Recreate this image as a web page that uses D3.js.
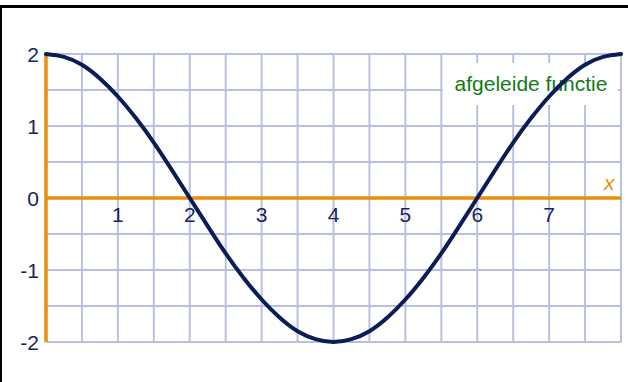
<!DOCTYPE html>
<html>
<head>
<meta charset="utf-8">
<script src="https://cdn.jsdelivr.net/npm/d3@7"></script>
<style>
  body { margin: 0; background: #fff; }
  svg { display: block; font-family: Arial, "Liberation Sans", sans-serif; }
</style>
</head>
<body>
<script>
// curve, x in steps of 0.25
var curveX = [0, 0.25, 0.5, 0.75, 1, 1.25, 1.5, 1.75, 2, 2.25, 2.5, 2.75, 3, 3.25, 3.5, 3.75, 4,
              4.25, 4.5, 4.75, 5, 5.25, 5.5, 5.75, 6, 6.25, 6.5, 6.75, 7, 7.25, 7.5, 7.75, 8];
var curveY = [2, 1.96, 1.85, 1.66, 1.41, 1.11, 0.77, 0.39, 0, -0.39, -0.77, -1.11, -1.41, -1.66, -1.85, -1.96, -2,
              -1.96, -1.85, -1.66, -1.41, -1.11, -0.77, -0.39, 0, 0.39, 0.77, 1.11, 1.41, 1.66, 1.85, 1.96, 2];
var xTicks = [1, 2, 3, 4, 5, 6, 7];
var yTicks = [2, 1, 0, -1, -2];
var curveLabel = "afgeleide functie";
var axisName = "x";

var width = 628, height = 382;

var svg = d3.select("body").append("svg")
  .attr("width", width)
  .attr("height", height);

// x: 0..8, y: -2..2
var xScale = d3.scaleLinear().domain([0, 8]).range([46, 621]);
var yScale = d3.scaleLinear().domain([-2, 2]).range([342, 54]);

// frame lines top and left
svg.append("line")
  .attr("x1", 0).attr("x2", width)
  .attr("y1", 6.5).attr("y2", 6.5)
  .attr("stroke", "#000").attr("stroke-width", 3);
svg.append("line")
  .attr("x1", 1).attr("x2", 1)
  .attr("y1", 5).attr("y2", height)
  .attr("stroke", "#000").attr("stroke-width", 2);

// grid every half unit
var gridX = d3.range(0, 8.01, 0.5);
var gridY = d3.range(-2, 2.01, 0.5);
var grid = svg.append("g").attr("stroke", "#b9bfe0").attr("stroke-width", 2);
grid.selectAll(".gx").data(gridX).enter().append("line")
  .attr("x1", d => xScale(d)).attr("x2", d => xScale(d))
  .attr("y1", yScale(2)).attr("y2", yScale(-2));
grid.selectAll(".gy").data(gridY).enter().append("line")
  .attr("x1", xScale(0)).attr("x2", xScale(8))
  .attr("y1", d => yScale(d)).attr("y2", d => yScale(d));

// white box behind the label
svg.append("rect")
  .attr("x", 443).attr("y", 63)
  .attr("width", 175).attr("height", 42)
  .attr("fill", "#fff");
svg.append("text")
  .attr("x", 531).attr("y", 91)
  .attr("text-anchor", "middle")
  .attr("font-size", 21)
  .attr("fill", "#137a17")
  .text(curveLabel);

// orange axes
svg.append("line")
  .attr("x1", xScale(0)).attr("x2", xScale(8))
  .attr("y1", yScale(0)).attr("y2", yScale(0))
  .attr("stroke", "#e8900c").attr("stroke-width", 3.5);
svg.append("line")
  .attr("x1", xScale(0)).attr("x2", xScale(0))
  .attr("y1", yScale(2)).attr("y2", yScale(-2))
  .attr("stroke", "#e8900c").attr("stroke-width", 3.5);

svg.append("text")
  .attr("x", 604).attr("y", yScale(0) - 8)
  .attr("font-size", 21)
  .attr("font-style", "italic")
  .attr("fill", "#e8900c")
  .text(axisName);

// tick labels
svg.selectAll(".xt").data(xTicks).enter().append("text")
  .attr("x", d => xScale(d)).attr("y", yScale(0) + 24)
  .attr("text-anchor", "middle")
  .attr("font-size", 21)
  .attr("fill", "#16265c")
  .text(d => d);
svg.selectAll(".yt").data(yTicks).enter().append("text")
  .attr("x", 39).attr("y", d => yScale(d) + 8)
  .attr("text-anchor", "end")
  .attr("font-size", 21)
  .attr("fill", "#16265c")
  .text(d => d);

// the curve
var line = d3.line()
  .x(d => xScale(d[0]))
  .y(d => yScale(d[1]))
  .curve(d3.curveNatural);

svg.append("path")
  .datum(d3.zip(curveX, curveY))
  .attr("d", line)
  .attr("fill", "none")
  .attr("stroke", "#0b1d58")
  .attr("stroke-width", 4)
  .attr("stroke-linecap", "round");
</script>
</body>
</html>
